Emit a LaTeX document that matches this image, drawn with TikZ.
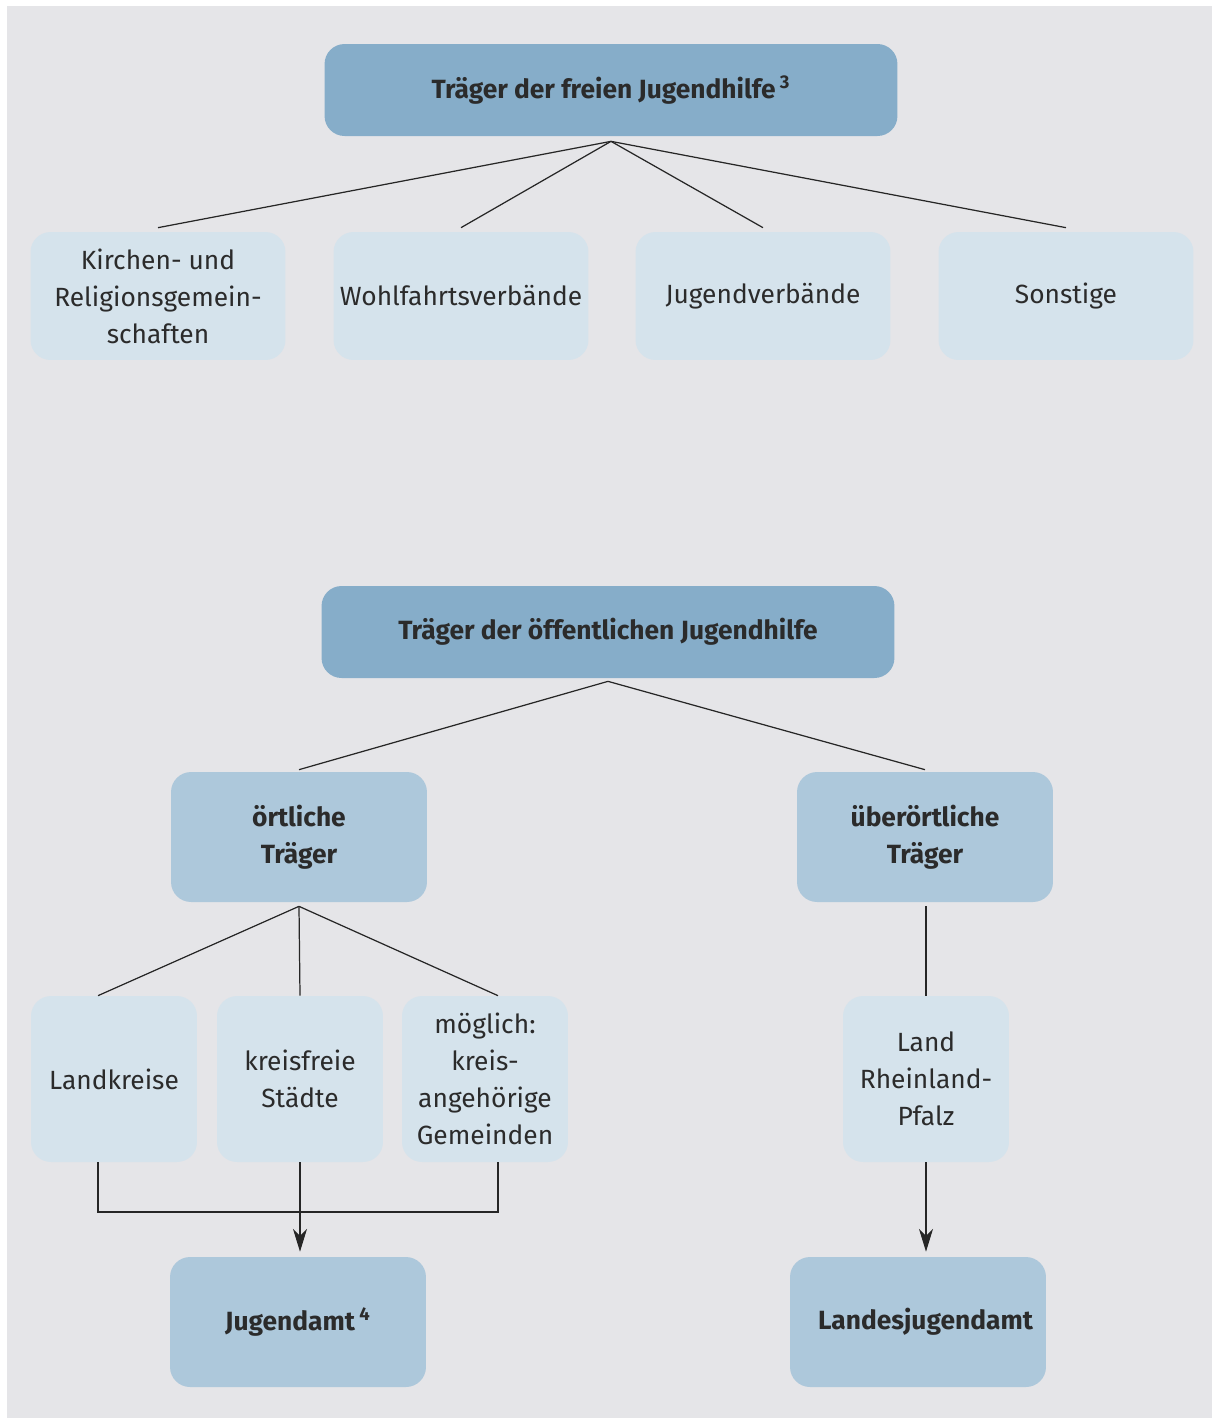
\documentclass[tikz,border=0pt]{standalone}
\usepackage{fontspec}
\setmainfont{Fira Sans}
\usepackage{xcolor}
\usetikzlibrary{arrows.meta}
\definecolor{bggray}{HTML}{E5E5E8}
\definecolor{darkblue}{HTML}{86ADC9}
\definecolor{midblue}{HTML}{ADC8DB}
\definecolor{lightblue}{HTML}{D5E3EC}
\definecolor{textgray}{HTML}{2B2B2B}

\begin{document}
\begin{tikzpicture}[x=0.02cm, y=-0.02cm,
    box/.style={rounded corners=0.4cm, align=center, text=textgray, inner sep=0pt,
      font=\fontsize{15}{21}\selectfont},
    headbox/.style={box, fill=darkblue, minimum width=11.46cm, minimum height=1.84cm,
      font=\fontsize{15}{21}\selectfont\bfseries},
    freebox/.style={box, fill=lightblue, minimum width=5.1cm, minimum height=2.56cm},
    levelbox/.style={box, fill=midblue, minimum width=5.12cm, minimum height=2.6cm,
      font=\fontsize{15}{21}\selectfont\bfseries},
    smallbox/.style={box, fill=lightblue, minimum width=3.32cm, minimum height=3.32cm},
    link/.style={draw=black!85, line width=0.7pt},
    arr/.style={link, -{Stealth[length=13pt, width=8pt, inset=4pt]}}]
      \useasboundingbox (0,0) rectangle (1212,1418);
      \fill[bggray] (7,6) rectangle (1212,1418);

      \node[headbox] (freie) at (611,90) {Träger der freien Jugendhilfe\,\textsuperscript{3}};
      \node[freebox] (kirche) at (158,296) {Kirchen- und\\Religionsgemein-\\schaften};
      \node[freebox] (wohl)   at (461,296) {Wohlfahrtsverbände};
      \node[freebox] (jugv)   at (763,296) {Jugendverbände};
      \node[freebox] (sonst)  at (1066,296) {Sonstige};

      \node[headbox] (oeff)  at (608,632) {Träger der öffentlichen Jugendhilfe};
      \node[levelbox] (ort)   at (299,837) {örtliche\\Träger};
      \node[levelbox] (ueber) at (925,837) {überörtliche\\Träger};

      \node[smallbox] (lk)   at (114,1079) {Landkreise};
      \node[smallbox] (kf)   at (300,1079) {kreisfreie\\Städte};
      \node[smallbox] (mg)   at (485,1079) {möglich:\\kreis-\\angehörige\\Gemeinden};
      \node[smallbox] (land) at (926,1079) {Land\\Rheinland-\\Pfalz};

      \node[levelbox] (amt)   at (298,1322) {Jugendamt\,\textsuperscript{4}};
      \node[levelbox] (ljamt) at (918,1322) {\hspace{0.3cm}Landesjugendamt};

      \coordinate (fs) at ([yshift=-0.1cm]freie.south);
      \draw[link] (fs) -- ([yshift=0.08cm]kirche.north);
      \draw[link] (fs) -- ([yshift=0.08cm]wohl.north);
      \draw[link] (fs) -- ([yshift=0.08cm]jugv.north);
      \draw[link] (fs) -- ([yshift=0.08cm]sonst.north);

      \coordinate (os) at ([yshift=-0.06cm]oeff.south);
      \draw[link] (os) -- ([yshift=0.04cm]ort.north);
      \draw[link] (os) -- ([yshift=0.04cm]ueber.north);

      \coordinate (ts) at ([yshift=-0.08cm]ort.south);
      \draw[link] (ts) -- ([xshift=-0.32cm]lk.north);
      \draw[link] (ts) -- (kf.north);
      \draw[link] (ts) -- ([xshift=0.26cm]mg.north);
      \draw[link] ([yshift=-0.08cm]land.north |- ueber.south) -- (land.north);

      \coordinate (join) at (299,1212);
      \draw[link] ([xshift=-0.32cm]lk.south) |- (join) -| ([xshift=0.26cm]mg.south);
      \draw[arr, shorten >=0.1cm] (kf.south) -- (kf.south |- amt.north);
      \draw[arr, shorten >=0.1cm] (land.south) -- (land.south |- ljamt.north);
\end{tikzpicture}
\end{document}
